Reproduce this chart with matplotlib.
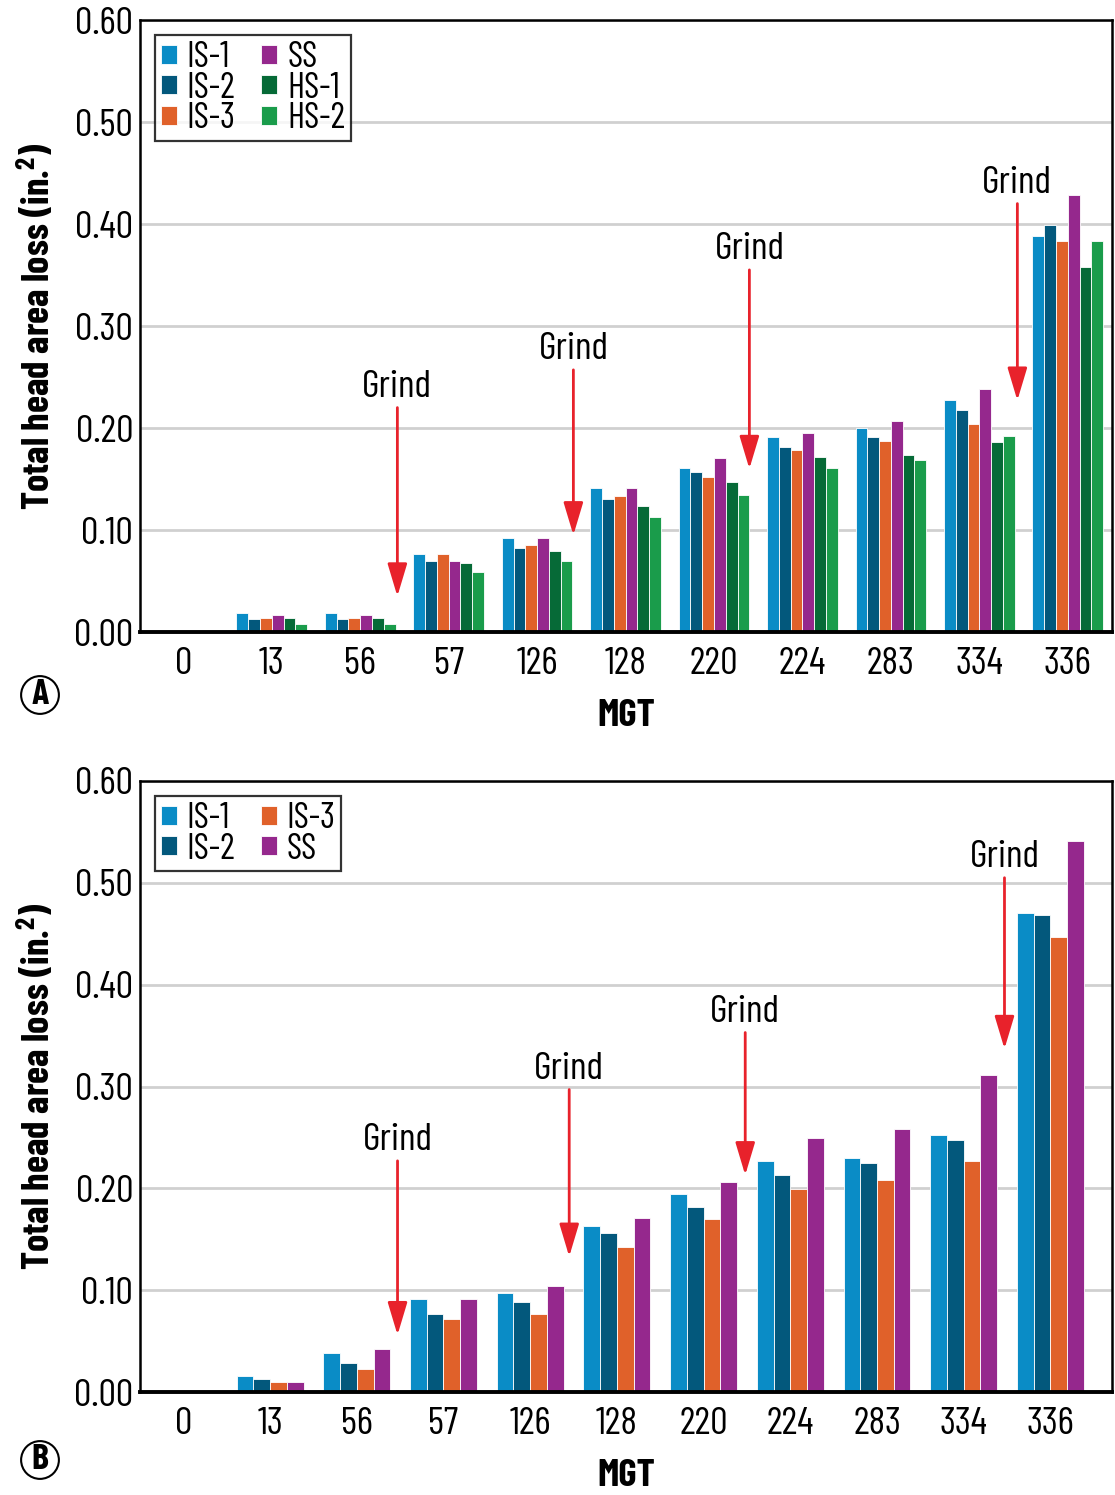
import matplotlib
matplotlib.use('Agg')
import matplotlib.pyplot as plt
from matplotlib import font_manager
import numpy as np

# pick a condensed face if one is installed
installed = {f.name for f in font_manager.fontManager.ttflist}
cond = [n for n in ['Barlow Condensed', 'Barlow Semi Condensed', 'Roboto Condensed',
                    'Liberation Sans Narrow'] if n in installed]
plt.rcParams['font.family'] = cond[:1] + ['DejaVu Sans']

mgt = ['0', '13', '56', '57', '126', '128', '220', '224', '283', '334', '336']

# panel A - six rail sections
is1_a = [0, 0.019, 0.019, 0.076, 0.092, 0.141, 0.161, 0.191, 0.200, 0.227, 0.388]
is2_a = [0, 0.0125, 0.0125, 0.070, 0.082, 0.130, 0.157, 0.181, 0.191, 0.218, 0.399]
is3_a = [0, 0.014, 0.014, 0.076, 0.085, 0.133, 0.152, 0.178, 0.187, 0.204, 0.383]
ss_a = [0, 0.0165, 0.0165, 0.070, 0.092, 0.141, 0.171, 0.195, 0.207, 0.238, 0.428]
hs1_a = [0, 0.014, 0.014, 0.068, 0.079, 0.124, 0.147, 0.172, 0.174, 0.186, 0.358]
hs2_a = [0, 0.008, 0.008, 0.059, 0.070, 0.113, 0.134, 0.161, 0.169, 0.192, 0.383]

# panel B - four rail sections
is1_b = [0, 0.016, 0.038, 0.091, 0.097, 0.163, 0.194, 0.227, 0.230, 0.252, 0.470]
is2_b = [0, 0.0125, 0.0285, 0.077, 0.088, 0.156, 0.182, 0.213, 0.225, 0.247, 0.468]
is3_b = [0, 0.010, 0.023, 0.0715, 0.077, 0.142, 0.170, 0.199, 0.208, 0.227, 0.447]
ss_b = [0, 0.010, 0.042, 0.091, 0.104, 0.171, 0.206, 0.249, 0.258, 0.311, 0.541]

# grind markers: x position, label height, arrow tip
grind_x_a = [2.42, 4.41, 6.40, 9.43]
grind_text_a = [0.240, 0.277, 0.375, 0.440]
grind_tip_a = [0.035, 0.095, 0.160, 0.227]

grind_x_b = [2.47, 4.45, 6.48, 9.47]
grind_text_b = [0.247, 0.317, 0.373, 0.525]
grind_tip_b = [0.056, 0.133, 0.213, 0.337]

colors = {'IS-1': '#0a8cc6', 'IS-2': '#03587c', 'IS-3': '#e0612a',
          'SS': '#95288d', 'HS-1': '#066a37', 'HS-2': '#1a9c4b'}
red = '#e8222b'

W, H = 1115, 1495
fig = plt.figure(figsize=(W / 100, H / 100), dpi=100)
axA = fig.add_axes([140 / W, 1 - 632 / H, 972 / W, 612 / H])
axB = fig.add_axes([140 / W, 1 - 1392 / H, 972 / W, 611 / H])


def draw_panel(ax, series, width, xlim, gx, gtext, gtip, ncol):
    x = np.arange(len(mgt))
    n = len(series)
    for i, (name, vals) in enumerate(series):
        off = (i - (n - 1) / 2) * width
        ax.bar(x + off, vals, width, color=colors[name], label=name,
               edgecolor='white', linewidth=0.6, zorder=2)
    ax.set_xlim(*xlim)
    ax.set_ylim(0, 0.6)
    ax.set_yticks(np.arange(0, 0.61, 0.1))
    ax.set_yticklabels(['%.2f' % v for v in np.arange(0, 0.61, 0.1)])
    ax.set_xticks(x)
    ax.set_xticklabels(mgt)
    ax.tick_params(axis='both', length=0, labelsize=28)
    ax.tick_params(axis='x', pad=11)
    ax.tick_params(axis='y', pad=5)
    ax.yaxis.grid(True, color='#d0d0d0', linewidth=2)
    ax.set_axisbelow(True)
    for s in ['left', 'top', 'right']:
        ax.spines[s].set_linewidth(1.8)
        ax.spines[s].set_zorder(3)
    ax.spines['bottom'].set_linewidth(2.8)
    ax.spines['bottom'].set_zorder(3)
    ax.set_xlabel('MGT', fontsize=28, fontweight='bold', labelpad=12)
    ax.set_ylabel('Total head area loss (in.$^\\mathregular{2}$)', fontsize=28,
                  fontweight='bold', labelpad=12)
    for xx, ty, tip in zip(gx, gtext, gtip):
        ax.annotate('', xy=(xx, tip), xytext=(xx, ty - 0.02),
                    arrowprops=dict(arrowstyle='-|>,head_length=1.0,head_width=0.3',
                                    color=red, lw=2, shrinkA=0, shrinkB=0,
                                    mutation_scale=20), zorder=4)
        ax.text(xx, ty, 'Grind', ha='center', va='center', fontsize=28, zorder=4)
    leg = ax.legend(loc='upper left', bbox_to_anchor=(0.0154, 0.975),
                    borderaxespad=0, ncol=ncol, fontsize=26, frameon=True,
                    fancybox=False, edgecolor='black', handlelength=0.44,
                    handleheight=0.44, handletextpad=0.28, labelspacing=-0.07,
                    columnspacing=0.7, borderpad=0.16)
    leg.get_frame().set_linewidth(1.6)


draw_panel(axA, [('IS-1', is1_a), ('IS-2', is2_a), ('IS-3', is3_a),
                 ('SS', ss_a), ('HS-1', hs1_a), ('HS-2', hs2_a)],
           0.1333, (-0.49, 10.5), grind_x_a, grind_text_a, grind_tip_a, 2)
draw_panel(axB, [('IS-1', is1_b), ('IS-2', is2_b), ('IS-3', is3_b), ('SS', ss_b)],
           0.193, (-0.5, 10.71), grind_x_b, grind_text_b, grind_tip_b, 2)

for lab, py in [('A', 695), ('B', 1460)]:
    fig.text(40 / W, 1 - py / H, lab, ha='center', va='center', fontsize=26,
             fontweight='bold',
             bbox=dict(boxstyle='circle,pad=0.08', fc='white', ec='black', lw=1.5))

fig.savefig('out.png', dpi=100)
